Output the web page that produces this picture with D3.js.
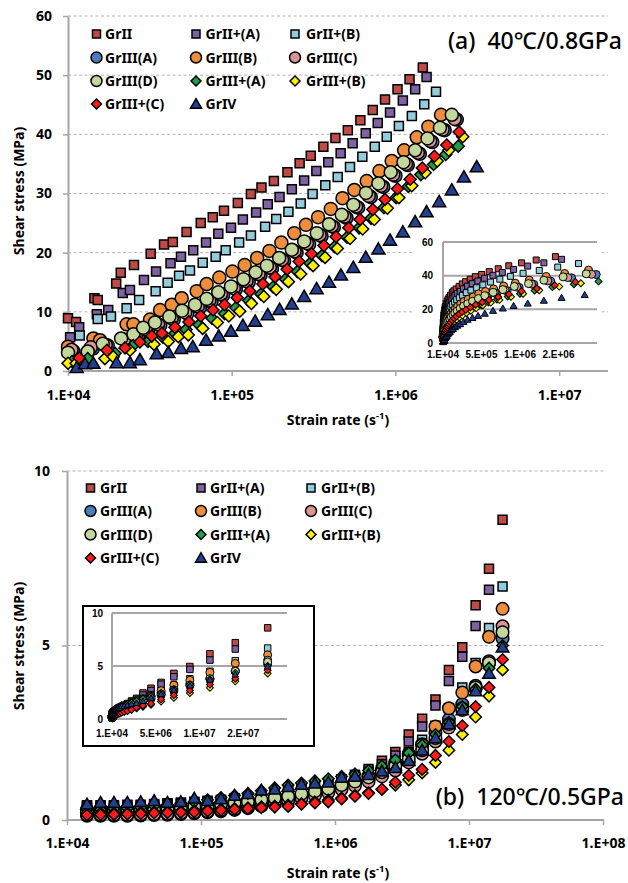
<!DOCTYPE html>
<html><head><meta charset="utf-8">
<script src="https://cdn.jsdelivr.net/npm/d3@7"></script>
<style>
body{margin:0;background:#fff;}
svg text{font-family:"Noto Sans","Noto Sans CJK KR",sans-serif;fill:#000;}
.ins text{font-family:"Liberation Sans",Arial,sans-serif;}
</style>
</head><body>
<svg id="c" width="628" height="883"></svg>
<script>
// ---------------- DATA ----------------
const seriesNames = ["GrII","GrII+(A)","GrII+(B)","GrIII(A)","GrIII(B)","GrIII(C)","GrIII(D)","GrIII+(A)","GrIII+(B)","GrIII+(C)","GrIV"];
const xTicksA = [1e4,1e5,1e6,1e7];
const yTicksA = [0,10,20,30,40,50,60];
const xTicksB = [1e4,1e5,1e6,1e7,1e8];
const yTicksB = [0,5,10];
const insetXTicksA = [1e4,5.1e5,1.01e6,1.51e6];
const insetYTicksA = [0,20,40,60];
const insetXTicksB = [1e4,5.01e6,1.001e7,1.501e7];
const insetYTicksB = [0,5,10];

// Panel (a) 40C / 0.8GPa
const rateA_GrII = [1.0e4,1.12e4,1.45e4,1.52e4,1.97e4,2.1e4,2.53e4,3.2e4,3.86e4,4.37e4,5.3e4,6.47e4,7.66e4,8.97e4,1.09e5,1.31e5,1.52e5,1.81e5,2.19e5,2.6e5,3.04e5,3.63e5,4.3e5,5.12e5,6.11e5,7.27e5,8.64e5,1.03e6,1.22e6,1.47e6];
const stressA_GrII = [8.9,8.3,12.3,12.0,14.8,16.6,17.9,19.8,21.4,21.8,23.5,25.0,26.0,27.1,28.4,29.9,31.0,32.1,33.6,35.1,36.4,37.9,39.4,40.7,42.4,44.1,45.9,47.6,49.3,51.3];
const rateA_GrIIA = [1.03e4,1.17e4,1.5e4,1.76e4,2.16e4,2.39e4,2.91e4,3.45e4,4.23e4,4.9e4,5.82e4,6.97e4,8.28e4,9.9e4,1.17e5,1.41e5,1.66e5,1.96e5,2.33e5,2.77e5,3.29e5,3.89e5,4.63e5,5.48e5,6.59e5,7.8e5,9.27e5,1.11e6,1.32e6,1.55e6];
const stressA_GrIIA = [5.7,7.4,9.6,10.3,13.2,13.7,15.4,16.8,18.2,19.3,20.4,21.7,23.2,24.2,25.6,26.8,28.2,29.4,30.7,32.2,33.8,35.3,36.8,38.5,40.2,41.9,43.7,45.7,47.6,49.7];
const rateA_GrIIB = [1.18e4,1.52e4,1.83e4,2.28e4,2.72e4,3.43e4,4.06e4,4.77e4,5.56e4,6.65e4,7.98e4,9.19e4,1.11e5,1.31e5,1.6e5,1.87e5,2.22e5,2.64e5,3.12e5,3.73e5,4.44e5,5.28e5,6.28e5,7.48e5,8.85e5,1.05e6,1.26e6,1.5e6,1.77e6];
const stressA_GrIIB = [6.0,8.8,9.2,10.6,12.0,13.5,14.9,16.1,17.0,18.3,19.3,20.4,21.7,22.9,24.4,25.7,26.9,28.3,29.9,31.4,32.8,34.5,36.2,37.9,39.6,41.4,43.1,45.1,47.2];
const rateA_GrIIIA = [1.08e4,1.42e4,1.75e4,2.26e4,2.68e4,3.09e4,3.66e4,4.43e4,5.36e4,6.39e4,7.52e4,8.86e4,1.06e5,1.27e5,1.5e5,1.76e5,2.09e5,2.49e5,2.97e5,3.54e5,4.21e5,5.03e5,5.92e5,7.08e5,8.43e5,1.0e6,1.19e6,1.41e6,1.68e6,2.0e6,2.37e6];
const stressA_GrIIIA = [3.3,3.8,4.3,5.1,5.8,6.8,7.7,8.7,9.7,10.7,11.7,12.8,13.8,15.0,16.2,17.3,18.6,20.0,21.4,22.8,24.3,25.9,27.6,29.4,31.1,33.0,34.8,36.7,38.7,40.7,42.5];
const rateA_GrIIIB = [1.0e4,1.43e4,1.57e4,2.28e4,2.51e4,3.17e4,3.65e4,4.3e4,4.95e4,6.11e4,7.03e4,8.4e4,1.01e5,1.2e5,1.43e5,1.7e5,2.01e5,2.41e5,2.84e5,3.37e5,4.03e5,4.75e5,5.61e5,6.68e5,7.98e5,9.49e5,1.13e6,1.35e6,1.59e6,1.9e6];
const stressA_GrIIIB = [4.1,5.5,5.2,7.9,7.9,8.7,10.3,11.2,12.3,13.5,14.7,15.8,16.8,17.9,19.1,20.3,21.7,23.3,24.7,26.0,27.4,29.2,30.6,32.1,33.8,35.5,37.3,39.5,41.3,43.3];
const rateA_GrIIIC = [1.05e4,1.38e4,1.7e4,2.2e4,2.6e4,3.0e4,3.55e4,4.3e4,5.2e4,6.2e4,7.3e4,8.6e4,1.03e5,1.23e5,1.46e5,1.71e5,2.03e5,2.42e5,2.88e5,3.44e5,4.09e5,4.88e5,5.75e5,6.87e5,8.18e5,9.7e5,1.16e6,1.37e6,1.63e6,1.94e6,2.3e6];
const stressA_GrIIIC = [3.6,4.0,4.4,5.3,6.0,7.0,7.9,8.9,9.9,10.9,11.9,13.0,14.0,15.2,16.4,17.5,18.8,20.2,21.6,23.0,24.5,26.1,27.8,29.6,31.3,33.2,35.0,36.9,38.9,40.8,42.6];
const rateA_GrIIID = [1.0e4,1.32e4,1.63e4,2.11e4,2.51e4,2.88e4,3.4e4,4.16e4,4.97e4,5.97e4,7.03e4,8.28e4,9.9e4,1.18e5,1.4e5,1.64e5,1.95e5,2.33e5,2.77e5,3.31e5,3.93e5,4.7e5,5.53e5,6.61e5,7.87e5,9.36e5,1.12e6,1.32e6,1.57e6,1.87e6,2.21e6];
const stressA_GrIIID = [3.1,3.3,4.6,5.5,6.2,7.3,8.2,9.2,10.2,11.2,12.2,13.3,14.3,15.5,16.7,17.8,19.1,20.5,21.9,23.3,24.8,26.4,28.1,30.1,31.7,33.6,35.3,37.3,39.3,41.1,43.3];
const rateA_GrIIIpA = [1.06e4,1.32e4,1.94e4,2.5e4,3.08e4,3.8e4,4.5e4,5.26e4,6.31e4,7.58e4,9.04e4,1.06e5,1.27e5,1.51e5,1.79e5,2.13e5,2.52e5,3.01e5,3.56e5,4.25e5,5.06e5,6.0e5,7.1e5,8.51e5,1.01e6,1.2e6,1.43e6,1.71e6,2.03e6,2.42e6];
const stressA_GrIIIpA = [1.6,2.1,3.0,4.3,5.0,5.7,6.4,7.0,7.8,8.9,9.7,10.7,11.9,13.0,14.2,15.5,16.8,18.2,19.5,21.0,22.6,24.2,25.8,27.6,29.3,31.2,33.2,34.9,36.6,38.0];
const rateA_GrIIIpB = [1.0e4,1.12e4,1.68e4,1.89e4,2.39e4,3.35e4,4.1e4,4.72e4,5.43e4,6.65e4,8.17e4,9.6e4,1.12e5,1.32e5,1.57e5,1.87e5,2.22e5,2.64e5,3.14e5,3.72e5,4.42e5,5.28e5,6.31e5,7.43e5,8.93e5,1.05e6,1.26e6,1.52e6,1.8e6,2.12e6,2.58e6];
const stressA_GrIIIpB = [1.3,1.3,2.1,2.4,3.5,4.5,5.0,5.8,6.1,7.2,8.2,9.3,10.1,11.4,12.6,13.8,15.1,16.4,17.8,19.2,20.7,22.4,24.0,25.6,27.5,29.3,31.3,33.5,35.5,37.3,39.6];
const rateA_GrIIIpC = [1.17e4,1.73e4,2.23e4,2.75e4,3.25e4,3.75e4,4.5e4,5.48e4,6.47e4,7.69e4,9.04e4,1.08e5,1.29e5,1.55e5,1.84e5,2.18e5,2.58e5,3.07e5,3.66e5,4.34e5,5.19e5,6.08e5,7.27e5,8.64e5,1.03e6,1.23e6,1.46e6,1.73e6,2.06e6,2.45e6];
const stressA_GrIIIpC = [2.2,3.5,3.9,4.9,5.9,6.4,7.4,8.3,9.3,10.3,11.2,12.4,13.5,14.7,15.9,17.2,18.5,19.8,21.2,22.7,24.2,25.6,27.3,29.0,30.8,32.4,34.3,36.3,38.2,40.4];
const rateA_GrIV = [1.13e4,1.27e4,1.43e4,1.98e4,2.39e4,2.75e4,3.48e4,4.1e4,4.9e4,5.78e4,6.97e4,8.34e4,9.9e4,1.17e5,1.39e5,1.66e5,1.96e5,2.33e5,2.77e5,3.3e5,3.93e5,4.65e5,5.53e5,6.59e5,7.87e5,9.27e5,1.11e6,1.32e6,1.55e6,1.85e6,2.21e6,2.62e6,3.14e6];
const stressA_GrIV = [0.6,1.2,1.3,1.4,1.4,1.9,2.9,3.1,3.8,4.1,5.2,5.9,6.7,7.7,8.4,9.5,10.4,11.3,12.6,13.9,15.0,16.2,17.5,19.2,20.6,22.1,23.5,25.2,26.9,28.6,30.6,32.8,34.5];

// Panel (b) 120C / 0.5GPa  (shared strain-rate grid)
const rateB = [1.41e4,1.78e4,2.24e4,2.82e4,3.55e4,4.47e4,5.62e4,7.08e4,8.91e4,1.12e5,1.41e5,1.78e5,2.24e5,2.82e5,3.55e5,4.47e5,5.62e5,7.08e5,8.91e5,1.12e6,1.41e6,1.78e6,2.24e6,2.82e6,3.55e6,4.47e6,5.62e6,7.08e6,8.91e6,1.12e7,1.41e7,1.78e7];
const stressB_GrII = [0.42,0.42,0.42,0.44,0.44,0.46,0.48,0.5,0.52,0.55,0.58,0.62,0.66,0.7,0.76,0.8,0.88,0.96,1.06,1.17,1.3,1.46,1.7,1.95,2.45,2.9,3.45,4.3,4.95,6.15,7.2,8.6];
const stressB_GrIIA = [0.4,0.4,0.4,0.42,0.42,0.44,0.46,0.48,0.5,0.52,0.55,0.58,0.62,0.67,0.72,0.75,0.82,0.9,1.0,1.1,1.22,1.38,1.6,1.85,2.25,2.68,3.28,3.98,4.68,5.56,6.6];
const stressB_GrIIB = [0.35,0.35,0.35,0.37,0.38,0.4,0.42,0.45,0.48,0.52,0.56,0.6,0.65,0.7,0.76,0.83,0.9,0.98,1.06,1.15,1.25,1.35,1.5,1.7,1.95,2.3,2.7,3.2,3.8,4.5,5.5,6.69];
const stressB_GrIIIA = [0.12,0.12,0.12,0.12,0.13,0.14,0.15,0.17,0.19,0.22,0.25,0.29,0.34,0.4,0.47,0.55,0.64,0.74,0.85,0.97,1.1,1.26,1.44,1.65,1.9,2.17,2.5,2.88,3.32,3.85,4.5,5.2];
const stressB_GrIIIB = [0.3,0.3,0.3,0.3,0.32,0.33,0.35,0.37,0.4,0.42,0.45,0.48,0.5,0.55,0.6,0.65,0.72,0.8,0.88,0.98,1.1,1.25,1.42,1.62,1.85,2.15,2.68,3.2,3.65,4.4,5.25,6.05];
const stressB_GrIIIC = [0.15,0.15,0.15,0.15,0.16,0.17,0.18,0.2,0.22,0.25,0.28,0.32,0.37,0.42,0.48,0.55,0.62,0.7,0.78,0.88,0.98,1.1,1.25,1.42,1.65,1.9,2.25,2.65,3.15,3.75,4.55,5.55];
const stressB_GrIIID = [0.25,0.25,0.25,0.27,0.28,0.3,0.32,0.35,0.38,0.41,0.45,0.49,0.53,0.58,0.63,0.68,0.75,0.82,0.9,1.0,1.1,1.22,1.37,1.55,1.75,2.0,2.35,2.75,3.2,3.8,4.5,5.38];
const stressB_GrIIIpA = [0.3,0.3,0.32,0.34,0.36,0.4,0.44,0.48,0.52,0.58,0.64,0.7,0.76,0.84,0.92,1.0,1.06,1.12,1.18,1.25,1.32,1.42,1.55,1.72,1.92,2.15,2.45,2.8,3.25,3.75,4.35,5.0];
const stressB_GrIIIpB = [0.2,0.2,0.2,0.2,0.22,0.23,0.24,0.25,0.27,0.29,0.31,0.33,0.35,0.38,0.4,0.43,0.47,0.52,0.57,0.63,0.7,0.78,0.88,1.0,1.15,1.35,1.65,2.0,2.45,2.95,3.55,4.3];
const stressB_GrIIIpC = [0.14,0.15,0.16,0.17,0.18,0.2,0.21,0.22,0.23,0.26,0.28,0.31,0.33,0.35,0.37,0.39,0.45,0.49,0.52,0.6,0.68,0.76,0.88,1.08,1.28,1.45,1.85,2.25,2.7,3.25,3.8,4.6];
const stressB_GrIV = [0.45,0.5,0.5,0.5,0.52,0.55,0.5,0.52,0.62,0.55,0.6,0.7,0.75,0.85,0.88,0.95,1.02,1.05,1.08,1.22,1.25,1.3,1.4,1.5,1.7,2.0,2.35,2.75,3.15,3.7,4.2,4.95];

// ---------------- STYLE ----------------
const colors = ["#BE4B48","#7E62A1","#93CDDD","#4A7EBB","#EE8E3C","#D99694","#C3D69B","#1E9E4A","#FFF200","#FF1A1A","#233F8F"];
const kinds = ["square","square","square","circle","circle","circle","circle","diamond","diamond","diamond","triangle"];

const seriesA = [
  [rateA_GrII,stressA_GrII],[rateA_GrIIA,stressA_GrIIA],[rateA_GrIIB,stressA_GrIIB],
  [rateA_GrIIIA,stressA_GrIIIA],[rateA_GrIIIB,stressA_GrIIIB],[rateA_GrIIIC,stressA_GrIIIC],[rateA_GrIIID,stressA_GrIIID],
  [rateA_GrIIIpA,stressA_GrIIIpA],[rateA_GrIIIpB,stressA_GrIIIpB],[rateA_GrIIIpC,stressA_GrIIIpC],[rateA_GrIV,stressA_GrIV]
].map(([r,s],i)=>({name:seriesNames[i],pts:r.map((x,j)=>({x,y:s[j]}))}));
const seriesB = [stressB_GrII,stressB_GrIIA,stressB_GrIIB,stressB_GrIIIA,stressB_GrIIIB,stressB_GrIIIC,stressB_GrIIID,stressB_GrIIIpA,stressB_GrIIIpB,stressB_GrIIIpC,stressB_GrIV]
  .map((s,i)=>({name:seriesNames[i],pts:s.map((y,j)=>({x:rateB[j],y}))}));

function fmtE(v){let e=Math.floor(Math.log10(v));let m=Math.round(v/Math.pow(10,e));if(m>=10){m=1;e++;}return m+".E"+(e>=0?"+":"-")+String(Math.abs(e)).padStart(2,"0");}

function symPath(kind,s){
  if(kind==="square") return d3.symbol(d3.symbolSquare,s*s)();
  if(kind==="circle") return d3.symbol(d3.symbolCircle,Math.PI*s*s/4)();
  if(kind==="diamond") return d3.symbol(d3.symbolSquare,s*s/2)();
  return d3.symbol(d3.symbolTriangle,Math.sqrt(3)/4*s*s)();
}
function rot(kind){return kind==="diamond"?" rotate(45)":"";}

const svg = d3.select("#c");
const AX="#A6A6A6";

function drawPoints(g,series,xs,ys,sizes,sw,filter){
  series.forEach((s,i)=>{
    const k=kinds[i];
    const p=symPath(k,sizes[k]);
    const dy = k==="triangle"?1.2*sizes[k]/13:0;
    g.append("g").selectAll("path").data(s.pts.filter(filter||(()=>true))).join("path")
      .attr("d",p)
      .attr("transform",d=>`translate(${xs(d.x)},${ys(d.y)+dy})`+rot(k))
      .attr("fill",colors[i]).attr("stroke","#000").attr("stroke-width",sw);
  });
}

function mainPanel(cfg){
  const g=svg.append("g");
  const {x,y}=cfg;
  g.append("g").selectAll("line").data(cfg.yTicks.filter(v=>v>0)).join("line")
    .attr("x1",x.range()[0]).attr("x2",cfg.gridEnd).attr("y1",d=>y(d)).attr("y2",d=>y(d))
    .attr("stroke","#B3B3B3").attr("stroke-width",1).attr("stroke-dasharray","3,2.5");
  const xa=g.append("g").attr("transform",`translate(0,${y(0)})`)
    .call(d3.axisBottom(x).tickValues(cfg.xTicks).tickFormat(fmtE).tickSize(5).tickSizeOuter(0).tickPadding(cfg.xPad));
  const ya=g.append("g").attr("transform",`translate(${x.range()[0]},0)`)
    .call(d3.axisLeft(y).tickValues(cfg.yTicks).tickFormat(d3.format("d")).tickSize(5).tickSizeOuter(0).tickPadding(cfg.yPad));
  [xa,ya].forEach(a=>{
    a.select(".domain").attr("stroke",AX).attr("stroke-width",2);
    a.selectAll(".tick line").attr("stroke",AX).attr("stroke-width",1.5);
    a.selectAll(".tick text").attr("font-size",14).attr("font-weight","bold").attr("fill","#000")
      .style("font-family",'"Noto Sans",sans-serif');
  });
  xa.select(".domain").attr("d",`M${x.range()[0]},0H${cfg.gridEnd}`);
  const t=g.append("text").attr("x",cfg.xTitle[0]).attr("y",cfg.xTitle[1]).attr("text-anchor","middle")
    .attr("font-size",14).attr("font-weight","bold");
  t.append("tspan").text("Strain rate (s");
  t.append("tspan").attr("dy",-6).attr("font-size",9.5).text("-1");
  t.append("tspan").attr("dy",6).text(")");
  g.append("text").attr("transform",`translate(${cfg.yTitle[0]},${cfg.yTitle[1]}) rotate(-90)`)
    .attr("text-anchor","middle").attr("font-size",14).attr("font-weight","bold").text("Shear stress (MPa)");
  g.append("text").attr("x",cfg.label[0]).attr("y",cfg.label[1]).attr("text-anchor","end")
    .attr("font-size",23).attr("font-weight",500).text(cfg.labelText);
  drawPoints(g,cfg.series,x,y,cfg.sizes,1.5);
  const lg=g.append("g");
  seriesNames.forEach((n,i)=>{
    const c=i%3,r=Math.floor(i/3);
    const mx=cfg.legMX[c], ty=cfg.legY[r];
    const k=kinds[i];
    lg.append("path").attr("d",symPath(k,cfg.legSizes[k]))
      .attr("transform",`translate(${mx},${ty+(k==="triangle"?1:0)})`+rot(k))
      .attr("fill",colors[i]).attr("stroke","#000").attr("stroke-width",1.5);
    lg.append("text").attr("x",cfg.legTX[c]).attr("y",ty+5).attr("font-size",14).attr("font-weight","bold").text(n);
  });
  return g;
}

function inset(cfg){
  const g=svg.append("g").attr("class","ins");
  g.append("rect").attr("x",cfg.box[0]).attr("y",cfg.box[1]).attr("width",cfg.box[2]).attr("height",cfg.box[3])
    .attr("fill","#fff").attr("stroke",cfg.border?"#000":"none").attr("stroke-width",2);
  const {x,y}=cfg;
  g.append("g").selectAll("line").data(cfg.yTicks).join("line")
    .attr("x1",x.range()[0]).attr("x2",x.range()[1]).attr("y1",d=>y(d)).attr("y2",d=>y(d))
    .attr("stroke",AX).attr("stroke-width",2);
  g.append("line").attr("x1",x.range()[0]).attr("x2",x.range()[0]).attr("y1",y.range()[0]).attr("y2",y.range()[1])
    .attr("stroke",AX).attr("stroke-width",2);
  g.append("g").selectAll("text").data(cfg.yTicks).join("text")
    .attr("x",x.range()[0]-cfg.yLabOff).attr("y",d=>y(d)+3.5).attr("text-anchor","end")
    .attr("font-size",10).attr("font-weight","bold").text(d=>d);
  g.append("g").selectAll("text").data(cfg.xTicks).join("text")
    .attr("x",d=>x(d)).attr("y",y(0)+cfg.xLabOff).attr("text-anchor","middle")
    .attr("font-size",10).attr("font-weight","bold").text(fmtE);
  drawPoints(g,cfg.series,x,y,cfg.sizes,1,d=>d.x<=x.domain()[1]*1.02);
}

// ---------- Panel (a) ----------
const xA=d3.scaleLog().domain([1e4,2e7]).range([68,608.4]);
const yA=d3.scaleLinear().domain([0,60]).range([371,16]);
mainPanel({x:xA,y:yA,series:seriesA,xTicks:xTicksA,yTicks:yTicksA,gridEnd:608,xPad:14,yPad:11,
  xTitle:[338,425],yTitle:[24,191],label:[622,49],labelText:"(a)\u00A0 40℃/0.8GPa",
  sizes:{square:9,circle:13,diamond:12,triangle:13},
  legMX:[96.5,196,295],legTX:[105,205.5,306],legY:[34,57.5,81,104],
  legSizes:{square:8,circle:11,diamond:10,triangle:11}});
inset({x:d3.scaleLinear().domain([1e4,2.01e6]).range([443,597]),y:d3.scaleLinear().domain([0,60]).range([343,242]),
  box:[412,236,188,128],border:false,series:seriesA,xTicks:insetXTicksA,yTicks:insetYTicksA,yLabOff:10,xLabOff:15,
  sizes:{square:6,circle:8,diamond:7,triangle:7}});

// ---------- Panel (b) ----------
const xB=d3.scaleLog().domain([1e4,1e8]).range([67,603]);
const yB=d3.scaleLinear().domain([0,10]).range([820,471]);
mainPanel({x:xB,y:yB,series:seriesB,xTicks:xTicksB,yTicks:yTicksB,gridEnd:604,xPad:13,yPad:12,
  xTitle:[338,878],yTitle:[24,646],label:[624,805],labelText:"(b)\u00A0 120℃/0.5GPa",
  sizes:{square:9,circle:12.5,diamond:11.5,triangle:12.5},
  legMX:[90.5,201,311],legTX:[100,210,321],legY:[488,511,534.5,558],
  legSizes:{square:8,circle:11,diamond:10,triangle:11}});
inset({x:d3.scaleLinear().domain([1e4,2.001e7]).range([112,287]),y:d3.scaleLinear().domain([0,10]).range([719,613]),
  box:[83,606,231,140],border:true,series:seriesB,xTicks:insetXTicksB,yTicks:insetYTicksB,yLabOff:9,xLabOff:18,
  sizes:{square:6.5,circle:8,diamond:7,triangle:6.5}});
</script>
</body></html>
